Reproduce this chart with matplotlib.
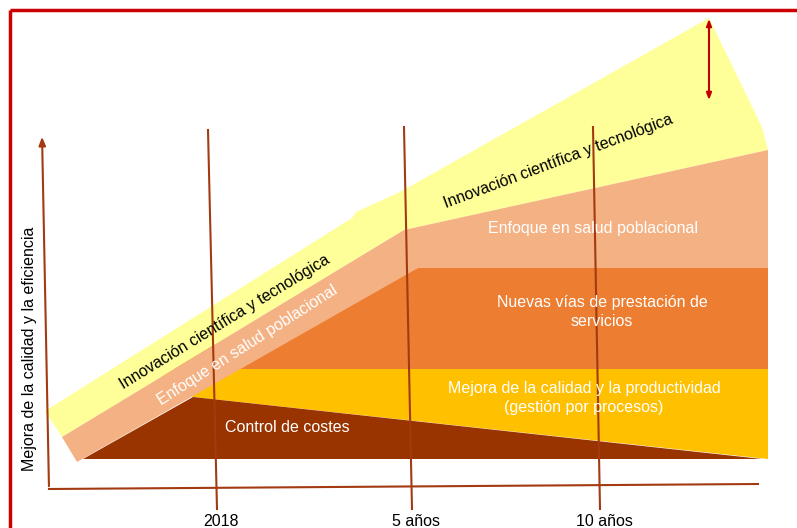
import matplotlib.pyplot as plt
from matplotlib.patches import Polygon

plt.rcParams['font.family'] = ['Liberation Sans', 'DejaVu Sans']

# diagram drawn in pixel space of the original picture (x right, y down)
# band outlines
innovacion_band = [(45, 411), (352, 218), (356, 212), (400, 192), (709, 18),
                   (762, 127), (768, 150), (404, 230), (62, 437)]
enfoque_band = [(62, 437), (404, 230), (768, 150), (768, 268), (418, 268), (77, 462)]
nuevas_vias = [(150, 369), (418, 268), (768, 268), (768, 369)]
mejora_calidad = [(150, 369), (768, 369), (768, 459), (193, 397)]
control_costes = [(83, 459), (193, 397), (762, 459)]

band_colors = {'innovacion': '#ffff99', 'enfoque': '#f4b183', 'nuevas': '#ed7d31',
               'mejora': '#ffc000', 'control': '#993300'}

# time marks
year_labels = ['2018', '5 años', '10 años']
year_top = [(208, 130), (404, 127), (593, 127)]
year_bottom = [(217, 509), (412, 509), (600, 509)]

line_col = '#a33a12'

fig = plt.figure(figsize=(7.97, 5.28), dpi=100)
ax = fig.add_axes([0, 0, 1, 1])
ax.set_xlim(0, 797)
ax.set_ylim(528, 0)
ax.axis('off')

# fills, bottom to top
for pts, key in [(nuevas_vias, 'nuevas'), (mejora_calidad, 'mejora'),
                 (control_costes, 'control'), (innovacion_band, 'innovacion'),
                 (enfoque_band, 'enfoque')]:
    ax.add_patch(Polygon(pts, closed=True, facecolor=band_colors[key],
                         edgecolor='none', zorder=1))

# red frame
ax.plot([10, 797], [10, 10], color='#cc0000', lw=2.5, zorder=5, solid_capstyle='butt')
ax.plot([10, 10], [10, 528], color='#cc0000', lw=2.5, zorder=5, solid_capstyle='butt')

# axes of the diagram
ax.annotate('', xy=(42, 134), xytext=(49, 489),
            arrowprops=dict(arrowstyle='-|>,head_length=0.5,head_width=0.2',
                            color=line_col, lw=1.5), zorder=3)
ax.plot([49, 758], [489, 484], color=line_col, lw=1.5, zorder=3)

# year lines and labels
for lab, top, bot in zip(year_labels, year_top, year_bottom):
    ax.plot([top[0], bot[0]], [top[1], bot[1]], color=line_col, lw=1.5, zorder=3)
    ax.text(bot[0] + 4, 522, lab, ha='center', va='center', fontsize=11.5, color='black')

# double arrow
ax.annotate('', xy=(709, 16), xytext=(709, 103),
            arrowprops=dict(arrowstyle='<|-|>,head_length=0.4,head_width=0.15',
                            color='#c00000', lw=1.5), zorder=4)

ax.text(30, 349, 'Mejora de la calidad y la eficiencia', rotation=90,
        ha='center', va='center', fontsize=11.5, color='black')

# labels on bands
fs = 11.5
ax.text(225, 322, 'Innovación científica y tecnológica', rotation=31.5,
        rotation_mode='anchor', ha='center', va='center', fontsize=fs, color='black', zorder=6)
ax.text(248, 345, 'Enfoque en salud poblacional', rotation=32.5,
        rotation_mode='anchor', ha='center', va='center', fontsize=fs, color='white', zorder=6)
ax.text(558, 161, 'Innovación científica y tecnológica', rotation=20.5,
        rotation_mode='anchor', ha='center', va='center', fontsize=fs, color='black', zorder=6)
ax.text(593, 228, 'Enfoque en salud poblacional', ha='center', va='center',
        fontsize=fs, color='white', zorder=6)
ax.text(602, 312, 'Nuevas vías de prestación de\nservicios', ha='center', va='center',
        fontsize=fs, color='white', linespacing=1.3, zorder=6)
ax.text(584, 398, 'Mejora de la calidad y la productividad\n(gestión por procesos)',
        ha='center', va='center', fontsize=fs, color='white', linespacing=1.3, zorder=6)
ax.text(287, 427, 'Control de costes', ha='center', va='center',
        fontsize=fs, color='white', zorder=6)

fig.savefig('out.png', dpi=100)
